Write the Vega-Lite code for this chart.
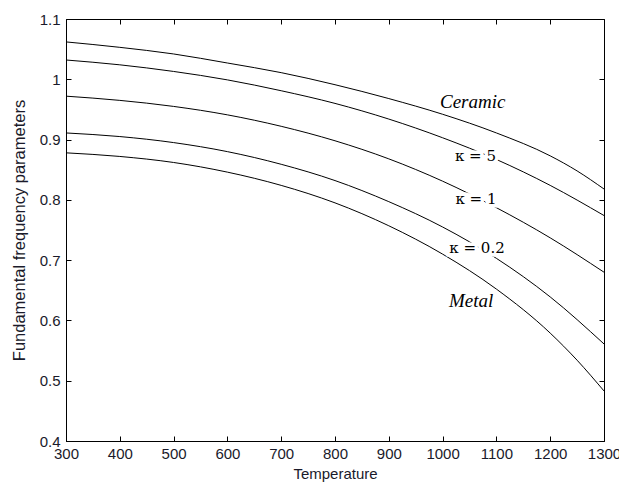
{
  "$schema": "https://vega.github.io/schema/vega-lite/v6.json",
  "autosize": {"type": "none"},
  "padding": {"left": 66, "top": 19, "right": 15, "bottom": 47},
  "width": 538,
  "height": 422,
  "background": "white",
  "config": {
    "view": {"stroke": "black", "strokeWidth": 1},
    "axis": {
      "grid": false,
      "domainColor": "black",
      "tickColor": "black",
      "labelColor": "#1a1a2a",
      "titleColor": "#1a1a2a",
      "labelFont": "Liberation Sans",
      "titleFont": "Liberation Sans",
      "labelFontSize": 15,
      "labelFlush": false,
      "labelOverlap": false,
      "titleFontWeight": "normal",
      "tickSize": -5
    }
  },
  "datasets": {
    "curves": [
      {"T": 300, "v": 1.062, "series": "Ceramic"},
      {"T": 400, "v": 1.053, "series": "Ceramic"},
      {"T": 500, "v": 1.042, "series": "Ceramic"},
      {"T": 600, "v": 1.027, "series": "Ceramic"},
      {"T": 700, "v": 1.011, "series": "Ceramic"},
      {"T": 800, "v": 0.991, "series": "Ceramic"},
      {"T": 900, "v": 0.968, "series": "Ceramic"},
      {"T": 1000, "v": 0.942, "series": "Ceramic"},
      {"T": 1100, "v": 0.911, "series": "Ceramic"},
      {"T": 1200, "v": 0.873, "series": "Ceramic"},
      {"T": 1250, "v": 0.848, "series": "Ceramic"},
      {"T": 1300, "v": 0.818, "series": "Ceramic"},
      {"T": 300, "v": 1.032, "series": "k5"},
      {"T": 400, "v": 1.024, "series": "k5"},
      {"T": 500, "v": 1.013, "series": "k5"},
      {"T": 600, "v": 0.999, "series": "k5"},
      {"T": 700, "v": 0.981, "series": "k5"},
      {"T": 800, "v": 0.960, "series": "k5"},
      {"T": 900, "v": 0.934, "series": "k5"},
      {"T": 1000, "v": 0.903, "series": "k5"},
      {"T": 1100, "v": 0.867, "series": "k5"},
      {"T": 1200, "v": 0.824, "series": "k5"},
      {"T": 1300, "v": 0.774, "series": "k5"},
      {"T": 300, "v": 0.972, "series": "k1"},
      {"T": 400, "v": 0.965, "series": "k1"},
      {"T": 500, "v": 0.955, "series": "k1"},
      {"T": 600, "v": 0.941, "series": "k1"},
      {"T": 700, "v": 0.922, "series": "k1"},
      {"T": 800, "v": 0.898, "series": "k1"},
      {"T": 900, "v": 0.868, "series": "k1"},
      {"T": 1000, "v": 0.831, "series": "k1"},
      {"T": 1100, "v": 0.787, "series": "k1"},
      {"T": 1200, "v": 0.737, "series": "k1"},
      {"T": 1300, "v": 0.680, "series": "k1"},
      {"T": 300, "v": 0.911, "series": "k02"},
      {"T": 400, "v": 0.905, "series": "k02"},
      {"T": 500, "v": 0.895, "series": "k02"},
      {"T": 600, "v": 0.880, "series": "k02"},
      {"T": 700, "v": 0.859, "series": "k02"},
      {"T": 800, "v": 0.832, "series": "k02"},
      {"T": 900, "v": 0.797, "series": "k02"},
      {"T": 1000, "v": 0.755, "series": "k02"},
      {"T": 1100, "v": 0.703, "series": "k02"},
      {"T": 1200, "v": 0.639, "series": "k02"},
      {"T": 1300, "v": 0.561, "series": "k02"},
      {"T": 300, "v": 0.878, "series": "Metal"},
      {"T": 400, "v": 0.872, "series": "Metal"},
      {"T": 500, "v": 0.862, "series": "Metal"},
      {"T": 600, "v": 0.846, "series": "Metal"},
      {"T": 700, "v": 0.824, "series": "Metal"},
      {"T": 800, "v": 0.795, "series": "Metal"},
      {"T": 900, "v": 0.757, "series": "Metal"},
      {"T": 1000, "v": 0.710, "series": "Metal"},
      {"T": 1100, "v": 0.652, "series": "Metal"},
      {"T": 1200, "v": 0.579, "series": "Metal"},
      {"T": 1250, "v": 0.534, "series": "Metal"},
      {"T": 1300, "v": 0.483, "series": "Metal"}
    ],
    "labels": [
      {"T": 1056, "v": 0.962, "label": "Ceramic", "kind": "name"},
      {"T": 1061, "v": 0.872, "label": "κ = 5", "kind": "kappa"},
      {"T": 1062, "v": 0.801, "label": "κ = 1", "kind": "kappa"},
      {"T": 1064, "v": 0.720, "label": "κ = 0.2", "kind": "kappa"},
      {"T": 1053, "v": 0.633, "label": "Metal", "kind": "name"}
    ]
  },
  "layer": [
    {
      "data": {"name": "curves"},
      "mark": {"type": "line", "color": "black", "strokeWidth": 1, "interpolate": "monotone"},
      "encoding": {
        "x": {
          "field": "T", "type": "quantitative",
          "scale": {"domain": [300, 1300], "nice": false, "zero": false},
          "axis": {
            "values": [300, 400, 500, 600, 700, 800, 900, 1000, 1100, 1200, 1300],
            "format": "d",
            "title": "Temperature",
            "titleFontSize": 15,
            "titleY": 32,
            "titleBaseline": "middle",
            "labelPadding": 10
          }
        },
        "y": {
          "field": "v", "type": "quantitative",
          "scale": {"domain": [0.4, 1.1], "nice": false, "zero": false},
          "axis": {
            "values": [0.4, 0.5, 0.6, 0.7, 0.8, 0.9, 1.0, 1.1],
            "format": "~g",
            "labelPadding": 11,
            "title": "Fundamental frequency parameters",
            "titleFontSize": 16.5,
            "titleX": -47,
            "titleY": 211,
            "titleAngle": -90,
            "titleBaseline": "middle",
            "titleAlign": "center"
          }
        },
        "detail": {"field": "series"}
      }
    },
    {
      "data": {"name": "labels"},
      "transform": [{"filter": "datum.kind == 'kappa'"}],
      "mark": {"type": "text", "font": "DejaVu Serif", "fontSize": 15, "stroke": "white", "strokeWidth": 7, "fill": "white", "baseline": "middle", "align": "center"},
      "encoding": {
        "x": {"field": "T", "type": "quantitative", "axis": null},
        "y": {"field": "v", "type": "quantitative", "axis": null},
        "text": {"field": "label"}
      }
    },
    {
      "data": {"name": "labels"},
      "transform": [{"filter": "datum.kind == 'name'"}],
      "mark": {"type": "text", "font": "Liberation Serif", "fontStyle": "italic", "fontSize": 19, "stroke": "white", "strokeWidth": 7, "fill": "white", "baseline": "middle", "align": "center"},
      "encoding": {
        "x": {"field": "T", "type": "quantitative", "axis": null},
        "y": {"field": "v", "type": "quantitative", "axis": null},
        "text": {"field": "label"}
      }
    },
    {
      "data": {"name": "labels"},
      "transform": [{"filter": "datum.kind == 'kappa'"}],
      "mark": {"type": "text", "font": "DejaVu Serif", "fontSize": 15, "color": "black", "baseline": "middle", "align": "center"},
      "encoding": {
        "x": {"field": "T", "type": "quantitative", "axis": null},
        "y": {"field": "v", "type": "quantitative", "axis": null},
        "text": {"field": "label"}
      }
    },
    {
      "data": {"name": "labels"},
      "transform": [{"filter": "datum.kind == 'name'"}],
      "mark": {"type": "text", "font": "Liberation Serif", "fontStyle": "italic", "fontSize": 19, "color": "black", "baseline": "middle", "align": "center"},
      "encoding": {
        "x": {"field": "T", "type": "quantitative", "axis": null},
        "y": {"field": "v", "type": "quantitative", "axis": null},
        "text": {"field": "label"}
      }
    },
    {
      "data": {"name": "curves"},
      "mark": {"type": "point", "opacity": 0},
      "encoding": {
        "x": {
          "field": "T", "type": "quantitative",
          "axis": {"orient": "top", "values": [300, 400, 500, 600, 700, 800, 900, 1000, 1100, 1200, 1300], "labels": false, "title": null, "domain": false}
        },
        "y": {
          "field": "v", "type": "quantitative",
          "axis": {"orient": "right", "values": [0.4, 0.5, 0.6, 0.7, 0.8, 0.9, 1.0, 1.1], "labels": false, "title": null, "domain": false}
        }
      }
    }
  ],
  "resolve": {"axis": {"x": "independent", "y": "independent"}}
}
